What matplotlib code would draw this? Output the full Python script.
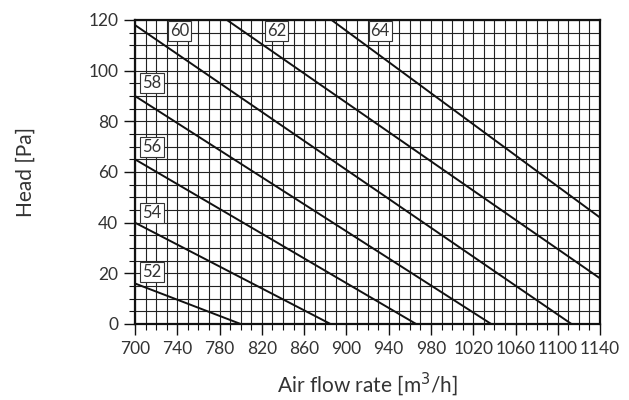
import matplotlib
matplotlib.use("Agg")
import matplotlib.pyplot as plt
from matplotlib.ticker import MultipleLocator

plt.rcParams['font.family'] = ['Lato', 'DejaVu Sans']

# curve labels and endpoints (air flow, head)
CURVES = ['52', '54', '56', '58', '60', '62', '64']
FLOW = [[700, 800], [700, 885], [700, 966], [700, 1037], [700, 1113], [787, 1140], [886, 1140]]
HEAD = [[16, 0], [40, 0], [65, 0], [90, 0], [118, 0], [120, 18], [120, 42]]
LABEL_X = [716, 716, 716, 716, 742, 834, 932]
LABEL_Y = [20.5, 44, 70, 95, 115.5, 115.5, 115.5]

X_TICKS = list(range(700, 1141, 40))
Y_TICKS = list(range(0, 121, 20))

fig = plt.figure(figsize=(6.29, 4.0), dpi=100)
ax = fig.add_axes([0.2146, 0.19, 0.7394, 0.76])

ax.set_xlim(700, 1140)
ax.set_ylim(0, 120)
ax.set_xticks(X_TICKS)
ax.set_yticks(Y_TICKS)
ax.xaxis.set_minor_locator(MultipleLocator(10))
ax.yaxis.set_minor_locator(MultipleLocator(5))
ax.grid(True, which='both', color='#222222', linewidth=0.8)
ax.set_axisbelow(True)

for x, y in zip(FLOW, HEAD):
    ax.plot(x, y, color='#111111', linewidth=1.4, solid_capstyle='butt')

for lab, lx, ly in zip(CURVES, LABEL_X, LABEL_Y):
    ax.text(lx, ly, lab, ha='center', va='center', fontsize=12, color='#333333',
            bbox=dict(boxstyle='square,pad=0.12', facecolor='white', edgecolor='#333333', linewidth=0.8))

for s in ax.spines.values():
    s.set_linewidth(1.6)
    s.set_color('#111111')

ax.tick_params(which='major', direction='out', length=8, width=1, color='#111111',
               labelsize=12.5, labelcolor='#333333', pad=4)
ax.tick_params(which='minor', direction='out', length=4, width=0.8, color='#111111')

ax.set_xlabel('Air flow rate [m$^3$/h]', fontsize=15, color='#333333', labelpad=10)
ax.set_ylabel('Head [Pa]', fontsize=15, color='#333333', labelpad=38)

fig.savefig('out.png', dpi=100)
